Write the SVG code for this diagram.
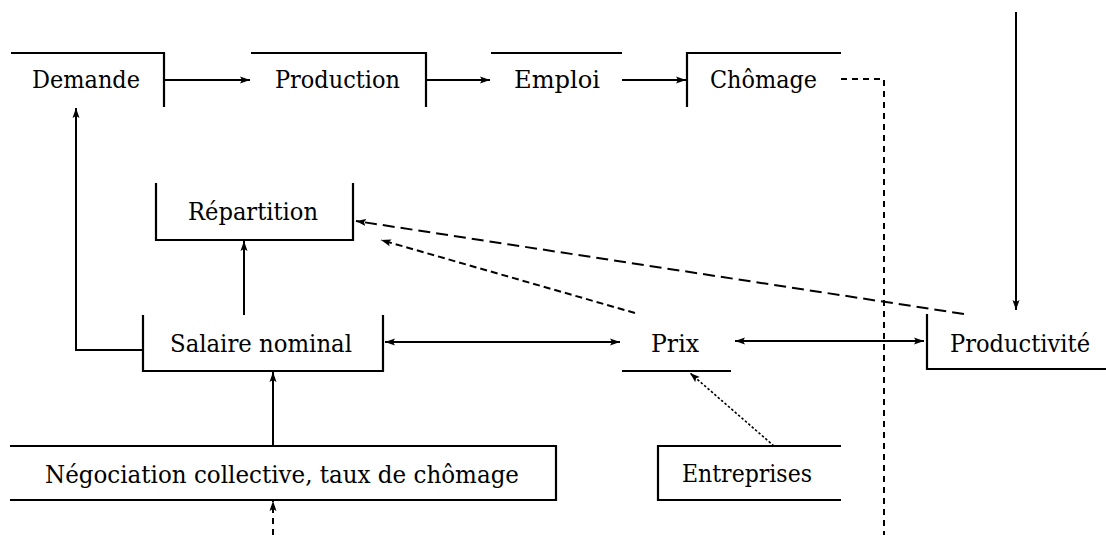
<svg xmlns="http://www.w3.org/2000/svg" width="1106" height="535" viewBox="0 0 1106 535">
<defs>
<marker id="ah" markerUnits="userSpaceOnUse" markerWidth="12" markerHeight="10" refX="10" refY="4" orient="auto-start-reverse">
<path d="M0,0.5 L10,4 L0,7.5 L2,4 z" fill="#000"/>
</marker>
</defs>
<style>
.t{font-size:24px;fill:#000;}
.b{fill:none;stroke:#000;stroke-width:2.2;}
.c{fill:none;stroke:#000;stroke-width:2;}
.d1{stroke-dasharray:6 5;}
.d2{stroke-dasharray:12 6;}
.d3{stroke-dasharray:7 4;}
.d4{stroke-dasharray:2.5 2;stroke-width:1.6;}
</style>
<rect width="1106" height="535" fill="#fff"/>
<g id="connectors">
<line class="c" x1="164" y1="80" x2="250" y2="80" marker-end="url(#ah)"/>
<line class="c" x1="426" y1="80" x2="490" y2="80" marker-end="url(#ah)"/>
<line class="c" x1="622" y1="80" x2="686" y2="80" marker-end="url(#ah)"/>
<polyline class="c d1" points="841,79 884,79 884,535"/>
<line class="c" x1="1016" y1="12" x2="1016" y2="310" marker-end="url(#ah)"/>
<polyline class="c" points="143,350 76,350 76,108" marker-end="url(#ah)"/>
<line class="c" x1="244" y1="315" x2="244" y2="241" marker-end="url(#ah)"/>
<line class="c" x1="385" y1="342" x2="620" y2="342" marker-start="url(#ah)" marker-end="url(#ah)"/>
<line class="c" x1="735" y1="341" x2="924" y2="341" marker-start="url(#ah)" marker-end="url(#ah)"/>
<line class="c" x1="273" y1="446" x2="273" y2="372" marker-end="url(#ah)"/>
<line class="c d1" x1="273" y1="535" x2="273" y2="501" marker-end="url(#ah)"/>
<line class="c d2" x1="964" y1="314" x2="356" y2="221" marker-end="url(#ah)"/>
<line class="c d3" x1="635" y1="313" x2="381" y2="240" marker-end="url(#ah)"/>
<line class="c d4" x1="774" y1="446" x2="690" y2="373" marker-end="url(#ah)"/>
</g>
<g font-family="DejaVu Serif, Liberation Serif, serif">
<g id="demande">
<polyline class="b" points="11,53 164,53 164,107"/>
<text class="t" x="32" y="88" textLength="108" lengthAdjust="spacingAndGlyphs">Demande</text>
</g>
<g id="production">
<polyline class="b" points="251,53 426,53 426,107"/>
<text class="t" x="275" y="88" textLength="125" lengthAdjust="spacingAndGlyphs">Production</text>
</g>
<g id="emploi">
<line class="b" x1="491" y1="53" x2="622" y2="53"/>
<text class="t" x="514" y="88" textLength="86" lengthAdjust="spacingAndGlyphs">Emploi</text>
</g>
<g id="chomage">
<polyline class="b" points="687,107 687,53 841,53"/>
<text class="t" x="710" y="88" textLength="107" lengthAdjust="spacingAndGlyphs">Chômage</text>
</g>
<g id="repartition">
<polyline class="b" points="156,183 156,240 353,240 353,183"/>
<text class="t" x="188" y="220" textLength="130" lengthAdjust="spacingAndGlyphs">Répartition</text>
</g>
<g id="salaire">
<polyline class="b" points="143,315 143,371 383,371 383,315"/>
<text class="t" x="170" y="352" textLength="182" lengthAdjust="spacingAndGlyphs">Salaire nominal</text>
</g>
<g id="prix">
<line class="b" x1="622" y1="371" x2="731" y2="371"/>
<text class="t" x="651" y="352" textLength="48" lengthAdjust="spacingAndGlyphs">Prix</text>
</g>
<g id="productivite">
<polyline class="b" points="927,314 927,369 1106,369"/>
<text class="t" x="950" y="352" textLength="140" lengthAdjust="spacingAndGlyphs">Productivité</text>
</g>
<g id="negociation">
<line class="b" x1="10" y1="446" x2="556" y2="446"/>
<line class="b" x1="10" y1="500" x2="556" y2="500"/>
<line class="b" x1="556" y1="445" x2="556" y2="501"/>
<text class="t" x="45" y="483" textLength="474" lengthAdjust="spacingAndGlyphs">Négociation collective, taux de chômage</text>
</g>
<g id="entreprises">
<polyline class="b" points="841,446 658,446 658,500 841,500"/>
<text class="t" x="682" y="482" textLength="130" lengthAdjust="spacingAndGlyphs">Entreprises</text>
</g>
</g>
</svg>
